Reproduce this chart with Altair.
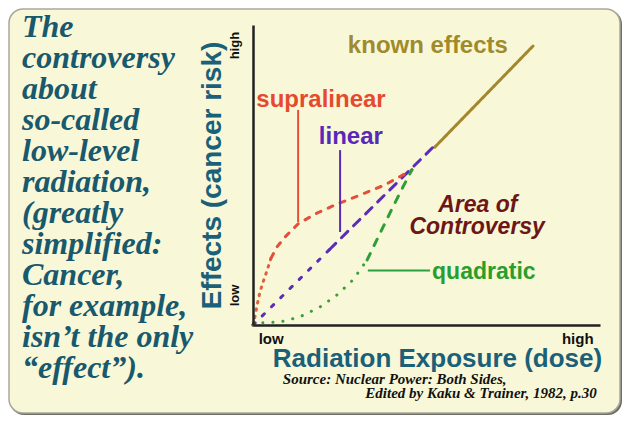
import altair as alt
import pandas as pd

# ---------------- data ----------------
# curve segments (x = dose 0..1, y = effect 0..1)
known_x = [0.524, 0.807]
known_y = [0.593, 0.930]

lin_dot_x = [0.0, 0.22]
lin_dot_y = [0.0, 0.251]
lin_dash_x = [0.22, 0.519]
lin_dash_y = [0.251, 0.593]

sup_dot_x = [0.0, 0.006, 0.012, 0.020, 0.029, 0.040, 0.052]
sup_dot_y = [0.0, 0.030, 0.067, 0.110, 0.143, 0.180, 0.223]
sup_dash_x = [0.052, 0.069, 0.092, 0.130, 0.179, 0.236, 0.308, 0.380, 0.458]
sup_dash_y = [0.223, 0.260, 0.293, 0.337, 0.370, 0.400, 0.433, 0.467, 0.517]

quad_dot_x = [0.0, 0.020, 0.078, 0.135, 0.193, 0.242, 0.288, 0.329]
quad_dot_y = [0.0, 0.007, 0.010, 0.027, 0.060, 0.100, 0.150, 0.217]
quad_dash_x = [0.329, 0.375, 0.403, 0.432, 0.458]
quad_dash_y = [0.217, 0.327, 0.393, 0.460, 0.517]

segments = ["known", "lin_dot", "lin_dash", "sup_dot", "sup_dash", "quad_dot", "quad_dash"]
seg_colors = ["#a4862c", "#5a2cb8", "#5a2cb8", "#e0603e", "#e2503a", "#3a9e3a", "#2e9e36"]
seg_dashes = [[1, 0], [3, 10], [9, 8], [1.5, 6], [5, 8], [0.1, 10], [7, 9]]

# leader lines
lead_names = ["supralinear", "linear", "quadratic"]
lead_x = [0.130, 0.251, 0.331]
lead_x2 = [0.130, 0.251, 0.510]
lead_y = [0.717, 0.583, 0.182]
lead_y2 = [0.343, 0.310, 0.182]
lead_colors = ["#e8503a", "#5a2ab8", "#2aa040"]

# curve labels
lab_text = ["known effects", "supralinear", "linear"]
lab_x = [0.504, 0.196, 0.282]
lab_y = [0.930, 0.750, 0.627]
lab_color = ["#a08a2c", "#e64a2e", "#5a28b6"]

quad_text = ["quadratic"]
quad_x = [0.516]
quad_y = [0.176]

area_text = ["Area of", "Controversy"]
area_x = [0.648, 0.646]
area_y = [0.400, 0.327]

# tick labels
x_ticks = [0.015, 0.98]
y_ticks = [0.10, 0.933]

source_text = ["Source: Nuclear Power: Both Sides,", "Edited by Kaku & Trainer, 1982, p.30"]
source_x = [0.086, 0.991]
source_y = [-0.197, -0.243]

paragraph = ["The", "controversy", "about", "so-called", "low-level", "radiation,",
             "(greatly", "simplified:", "Cancer,", "for example,", "isn\u2019t the only",
             "\u201ceffect\u201d)."]

# ---------------- tables ----------------
rows = []
for name, xs_, ys_ in [("known", known_x, known_y), ("lin_dot", lin_dot_x, lin_dot_y),
                       ("lin_dash", lin_dash_x, lin_dash_y), ("sup_dot", sup_dot_x, sup_dot_y),
                       ("sup_dash", sup_dash_x, sup_dash_y), ("quad_dot", quad_dot_x, quad_dot_y),
                       ("quad_dash", quad_dash_x, quad_dash_y)]:
    for i, (a, b) in enumerate(zip(xs_, ys_)):
        rows.append({"seg": name, "i": i, "x": a, "y": b})
curves_df = pd.DataFrame(rows)

leads_df = pd.DataFrame({"name": lead_names, "x": lead_x, "x2": lead_x2, "y": lead_y,
                         "y2": lead_y2, "c": lead_colors})
labels_df = pd.DataFrame({"text": lab_text, "x": lab_x, "y": lab_y, "c": lab_color})
quad_df = pd.DataFrame({"text": quad_text, "x": quad_x, "y": quad_y})
area_df = pd.DataFrame({"text": area_text, "x": area_x, "y": area_y})
src_df = pd.DataFrame({"text": source_text, "x": source_x, "y": source_y})
para_df = pd.DataFrame({"text": ["\n".join(paragraph)]})
one_df = pd.DataFrame({"k": [0]})

PW, PH = 347, 300
PAD = {"left": 245, "top": 17, "right": 22, "bottom": 90}

xs = alt.Scale(domain=[0, 1], nice=False, zero=False)
ys = alt.Scale(domain=[0, 1], nice=False, zero=False)

SANS = "Liberation Sans"
SERIF = "Liberation Serif"

shadow = alt.Chart(one_df).mark_rect(fill="#6e6e66", cornerRadius=14).encode(
    x=alt.value(-PAD["left"] + 2), x2=alt.value(PW + PAD["right"]),
    y=alt.value(-PAD["top"] + 2), y2=alt.value(PH + PAD["bottom"]),
)

bg = alt.Chart(one_df).mark_rect(
    fill="#f8f8d8", stroke="#a8a89a", strokeWidth=1.5, cornerRadius=14
).encode(
    x=alt.value(-PAD["left"] + 1), x2=alt.value(PW + PAD["right"] - 2),
    y=alt.value(-PAD["top"] + 1), y2=alt.value(PH + PAD["bottom"] - 2),
)

curves = alt.Chart(curves_df).mark_line(strokeWidth=3, strokeCap="round").encode(
    x=alt.X("x:Q", scale=xs, axis=alt.Axis(
        values=x_ticks, labelExpr="datum.value < 0.5 ? 'low' : 'high'",
        labelFlush=12, ticks=False, grid=False, domainColor="#222222", domainWidth=2.5,
        labelFont=SANS, labelFontWeight="bold", labelFontSize=15, labelColor="#111111",
        labelPadding=6, zindex=2,
        title="Radiation Exposure (dose)", titleFont=SANS, titleFontWeight="bold",
        titleFontSize=26, titleColor="#1b6079", titleX=184, titleY=41,
        titleAlign="center", titleBaseline="alphabetic")),
    y=alt.Y("y:Q", scale=ys, axis=alt.Axis(
        values=y_ticks, labelExpr="datum.value < 0.5 ? 'low' : 'high'",
        labelAngle=270, labelAlign="center", labelBaseline="bottom",
        ticks=False, grid=False, domainColor="#222222", domainWidth=2.5,
        labelFont=SANS, labelFontWeight="bold", labelFontSize=13, labelColor="#111111",
        labelPadding=12, zindex=2,
        title="Effects (cancer risk)", titleFont=SANS, titleFontWeight="bold",
        titleFontSize=28, titleColor="#1b6079", titleAngle=270, titleX=-41, titleY=150,
        titleAlign="center", titleBaseline="middle")),
    color=alt.Color("seg:N", scale=alt.Scale(domain=segments, range=seg_colors), legend=None),
    strokeDash=alt.StrokeDash("seg:N", scale=alt.Scale(domain=segments, range=seg_dashes), legend=None),
    order=alt.Order("i:Q"),
)

leads = alt.Chart(leads_df).mark_rule(strokeWidth=2).encode(
    x=alt.X("x:Q", scale=xs), x2="x2:Q",
    y=alt.Y("y:Q", scale=ys), y2="y2:Q",
    stroke=alt.Stroke("c:N", scale=None),
)

labels = alt.Chart(labels_df).mark_text(
    font=SANS, fontWeight="bold", fontSize=24, align="center", baseline="middle"
).encode(
    x=alt.X("x:Q", scale=xs), y=alt.Y("y:Q", scale=ys), text="text:N",
    fill=alt.Fill("c:N", scale=None),
)

quad = alt.Chart(quad_df).mark_text(
    font=SANS, fontWeight="bold", fontSize=23, align="left", baseline="middle", fill="#2a9e2a"
).encode(x=alt.X("x:Q", scale=xs), y=alt.Y("y:Q", scale=ys), text="text:N")

area = alt.Chart(area_df).mark_text(
    font=SANS, fontWeight="bold", fontStyle="italic", fontSize=23, align="center",
    baseline="middle", fill="#6e1616"
).encode(x=alt.X("x:Q", scale=xs), y=alt.Y("y:Q", scale=ys), text="text:N")

src1 = alt.Chart(src_df.iloc[[0]]).mark_text(
    font=SERIF, fontWeight="bold", fontStyle="italic", fontSize=15, align="left",
    baseline="alphabetic", fill="#111111"
).encode(x=alt.X("x:Q", scale=xs), y=alt.Y("y:Q", scale=ys), text="text:N")

src2 = alt.Chart(src_df.iloc[[1]]).mark_text(
    font=SERIF, fontWeight="bold", fontStyle="italic", fontSize=15, align="right",
    baseline="alphabetic", fill="#111111"
).encode(x=alt.X("x:Q", scale=xs), y=alt.Y("y:Q", scale=ys), text="text:N")

para = alt.Chart(para_df).mark_text(
    font=SERIF, fontWeight="bold", fontStyle="italic", fontSize=32, lineHeight=31,
    lineBreak="\n", align="left", baseline="alphabetic", fill="#19596d"
).encode(x=alt.value(22 - 253), y=alt.value(37 - 25), text="text:N")

chart = alt.layer(shadow, bg, curves, leads, labels, quad, area, src1, src2, para).properties(
    width=PW, height=PH, padding=PAD, autosize="none", background="#ffffff"
).configure_view(strokeWidth=0)

chart.save("out.html", embed_options={"renderer": "svg", "actions": False})
